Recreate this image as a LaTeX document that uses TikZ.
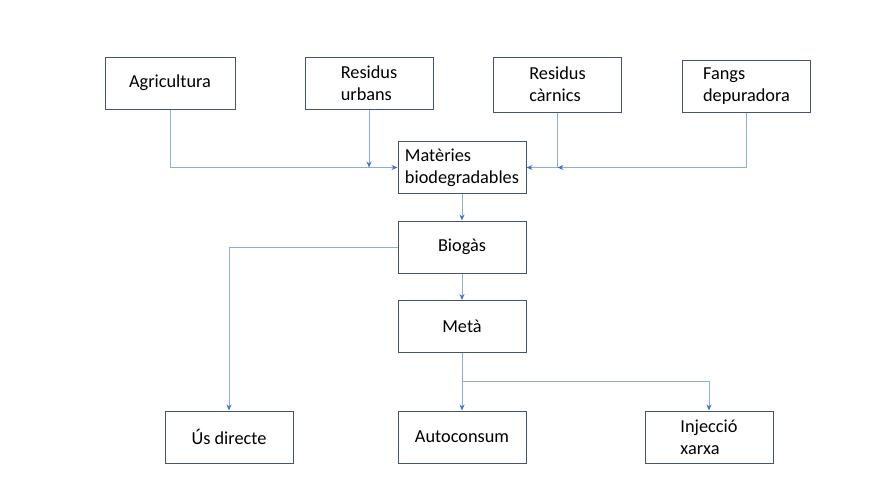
\documentclass[tikz,border=0pt]{standalone}
\usepackage{fontspec}
\setmainfont{Carlito}
\usetikzlibrary{calc}
\usetikzlibrary{arrows.meta}
\definecolor{c1}{RGB}{68,84,106}
\definecolor{c2}{RGB}{143,170,220}
\definecolor{c3}{RGB}{68,114,196}

\begin{document}
\begin{tikzpicture}[x=1pt,y=-1pt,
    box/.style={draw=c1,line width=1pt,minimum width=128pt,minimum height=52pt,align=left,
        font=\fontsize{18.3}{22}\selectfont},
    link/.style={draw=c2,line width=1pt},
    arr/.style={link,-{Stealth[length=6pt,width=5pt,color=c3]}}]
    \useasboundingbox (0,0) rectangle (886,498);
    % top row
    \node[box,minimum width=130pt] (agri) at (170,83) {Agricultura};
    \node[box] (urb) at (369,83) {Residus\\urbans};
    \node[box,minimum height=55pt] (carn) at (557.5,84.5) {Residus\\càrnics};
    \node[box] (fang) at (746.5,86) {Fangs\\depuradora};
    % middle column
    \node[box] (mat) at (462,167.5) {Matèries\\biodegradables};
    \node[box] (bio) at (462,247) {Biogàs};
    \node[box] (meta) at (462,326.5) {Metà};
    % bottom row
    \node[box] (us) at (229,437) {Ús directe};
    \node[box] (auto) at (462,437) {Autoconsum};
    \node[box] (inj) at (709,437) {Injecció\\xarxa};

    \coordinate (jc) at (carn.south |- mat.east);
    \coordinate (split) at ($(meta.south)!0.5!(auto.north)$);

    \draw[arr] (agri.south) |- (mat.west);
    \draw[arr] (urb.south) -- (urb.south |- mat.west);
    \draw[arr] (carn.south) |- (mat.east);
    \draw[arr] (fang.south) |- (jc);
    \draw[arr] (mat) -- (bio);
    \draw[arr] (bio) -- (meta);
    \draw[arr] (bio.west) -| (us.north);
    \draw[arr] (meta) -- (auto);
    \draw[arr] (split) -| (inj.north);
\end{tikzpicture}
\end{document}
